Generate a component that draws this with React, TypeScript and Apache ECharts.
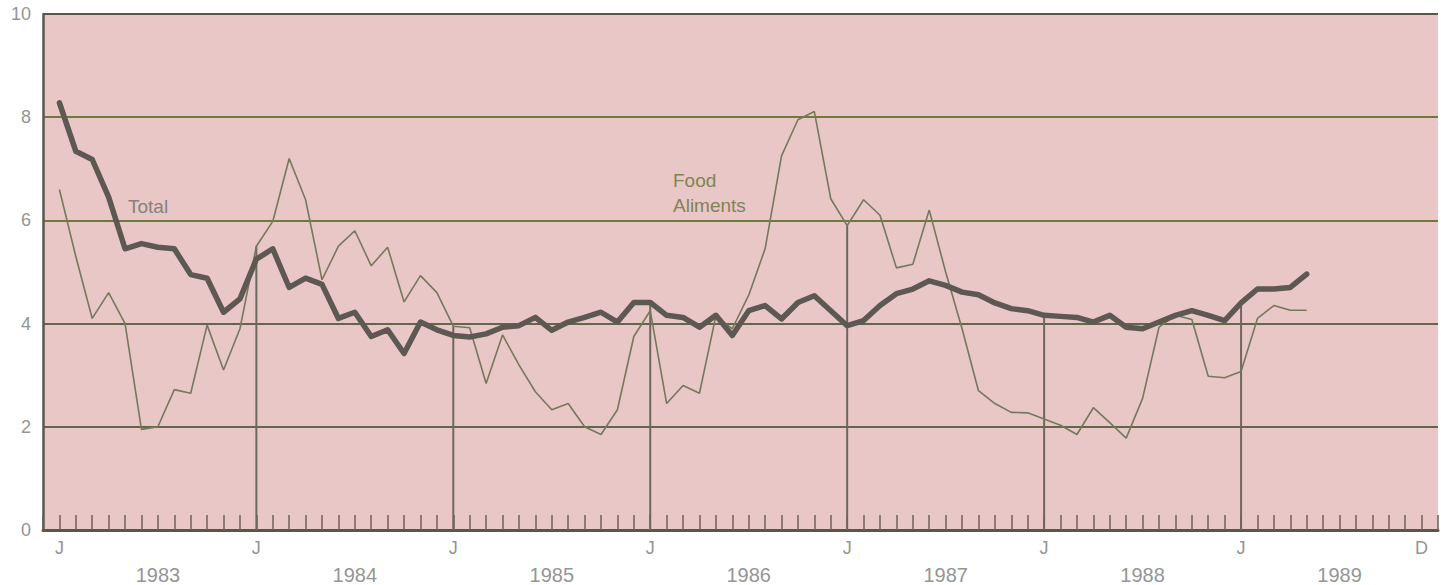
import React, { useEffect, useRef } from "react";
import * as echarts from "echarts";

// Month index 0 = January 1983
const totalValues = [
  8.28, 7.34, 7.18, 6.45, 5.45, 5.55, 5.48, 5.45, 4.95, 4.88, 4.22, 4.48,
  5.25, 5.45, 4.7, 4.88, 4.76, 4.1, 4.22, 3.75, 3.88, 3.42, 4.03, 3.88,
  3.77, 3.74, 3.8, 3.93, 3.96, 4.12, 3.87, 4.03, 4.12, 4.22, 4.03, 4.41,
  4.41, 4.16, 4.12, 3.93, 4.16, 3.77, 4.25, 4.35, 4.09, 4.41, 4.54, 4.25,
  3.96, 4.06, 4.35, 4.58, 4.67, 4.83, 4.74, 4.61, 4.56, 4.4, 4.29, 4.25,
  4.16, 4.14, 4.12, 4.03, 4.16, 3.93, 3.9, 4.03, 4.16, 4.25, 4.16, 4.06,
  4.4, 4.67, 4.67, 4.7, 4.96,
];

const foodValues = [
  6.6, 5.3, 4.1, 4.6, 4.0, 1.95, 2.0, 2.72, 2.65, 3.97, 3.1, 3.9,
  5.5, 5.98, 7.2, 6.4, 4.85, 5.5, 5.8, 5.12, 5.48, 4.42, 4.93, 4.6,
  3.95, 3.92, 2.84, 3.78, 3.2, 2.68, 2.33, 2.45, 2.0, 1.85, 2.33, 3.75,
  4.25, 2.45, 2.8, 2.65, 4.15, 3.9, 4.55, 5.45, 7.25, 7.95, 8.11, 6.42,
  5.9, 6.4, 6.1, 5.08, 5.15, 6.2, 5.0, 3.9, 2.7, 2.45, 2.28, 2.27,
  2.15, 2.03, 1.85, 2.37, 2.08, 1.78, 2.55, 3.93, 4.16, 4.08, 2.98, 2.95,
  3.07, 4.1, 4.35, 4.26, 4.26,
];

const years = ["1983", "1984", "1985", "1986", "1987", "1988", "1989"];
const monthLetterJan = "J";
const monthLetterDec = "D";
const lastMonth = 83; // December 1989
const yTicks = [0, 2, 4, 6, 8, 10];

const FONT = "'Liberation Sans', Arial, sans-serif";
const LABEL_GREY = "#959595";

export default function App() {
  const ref = useRef<HTMLDivElement>(null);

  useEffect(() => {
    if (!ref.current) return;
    const chart = echarts.init(ref.current, undefined, { renderer: "svg" });

    const totalData = totalValues.map((v, i) => [i, v]);
    const foodData = foodValues.map((v, i) => [i, v]);
    // drop lines at each January after the first one
    const janData = years
      .map((_, k) => k * 12)
      .filter((m) => m > 0 && m < totalValues.length)
      .map((m) => [m, Math.max(totalValues[m], foodValues[m])]);

    const gridLineColors = ["#5c554c", "#62664a", "#62664a", "#6c7a3e", "#6c7a3e", "#5c554c"];

    chart.setOption({
      animation: false,
      backgroundColor: "#ffffff",
      grid: {
        left: 43,
        right: 0,
        top: 14,
        bottom: 54,
        show: true,
        backgroundColor: "#e8c7c6",
        borderWidth: 0,
      },
      xAxis: [
        {
          type: "value",
          min: -1,
          max: 84,
          interval: 1,
          axisLine: { show: true, onZero: false, lineStyle: { color: "#5c554c", width: 3 } },
          axisTick: {
            show: true,
            inside: true,
            length: 15,
            lineStyle: { color: "#6a625a", width: 1.5 },
          },
          splitLine: { show: false },
          axisLabel: {
            show: true,
            margin: 9,
            color: LABEL_GREY,
            fontSize: 18,
            fontFamily: FONT,
            formatter: (v: number) => {
              if (v === lastMonth) return monthLetterDec;
              if (v >= 0 && v % 12 === 0 && v / 12 < years.length) return monthLetterJan;
              return "";
            },
          },
        },
        {
          type: "value",
          position: "bottom",
          offset: 26,
          min: -1,
          max: 84,
          interval: 1,
          axisLine: { show: false, onZero: false },
          axisTick: { show: false },
          splitLine: { show: false },
          axisLabel: {
            show: true,
            margin: 9,
            color: LABEL_GREY,
            fontSize: 20,
            fontFamily: FONT,
            formatter: (v: number) => {
              if (v >= 0 && v % 12 === 6) {
                const k = (v - 6) / 12;
                return years[k] ?? "";
              }
              return "";
            },
          },
        },
      ],
      yAxis: {
        type: "value",
        min: 0,
        max: 10,
        interval: 2,
        axisLine: { show: true, onZero: false, lineStyle: { color: "#5c554c", width: 2.5 } },
        axisTick: { show: false },
        axisLabel: {
          margin: 12,
          color: LABEL_GREY,
          fontSize: 18,
          fontFamily: FONT,
          formatter: (v: number) => (yTicks.includes(v) ? String(v) : ""),
        },
        splitLine: {
          show: true,
          lineStyle: { color: gridLineColors, width: 2 },
        },
      },
      series: [
        {
          type: "custom",
          name: "jan",
          xAxisIndex: 0,
          z: 2,
          silent: true,
          renderItem: (params: any, api: any) => {
            const m = api.value(0);
            const v = api.value(1);
            const p0 = api.coord([m, 0]);
            const p1 = api.coord([m, v]);
            return {
              type: "line",
              shape: { x1: p0[0], y1: p0[1], x2: p1[0], y2: p1[1] },
              style: { stroke: "#6e675f", lineWidth: 2 },
            };
          },
          data: janData,
        },
        {
          type: "line",
          name: "Food",
          xAxisIndex: 0,
          data: foodData,
          symbol: "none",
          z: 3,
          lineStyle: { color: "#76785c", width: 1.6 },
        },
        {
          type: "line",
          name: "Total",
          xAxisIndex: 0,
          data: totalData,
          symbol: "none",
          z: 4,
          lineStyle: { color: "#5d5852", width: 5.5, cap: "round", join: "round" },
        },
      ],
      graphic: [
        {
          type: "text",
          left: 128,
          top: 197,
          style: { text: "Total", fill: "#86827c", font: `19px ${FONT}` },
          z: 10,
        },
        {
          type: "text",
          left: 673,
          top: 171,
          style: { text: "Food", fill: "#7f8455", font: `19px ${FONT}` },
          z: 10,
        },
        {
          type: "text",
          left: 673,
          top: 196,
          style: { text: "Aliments", fill: "#7f8455", font: `19px ${FONT}` },
          z: 10,
        },
      ],
    });

    return () => chart.dispose();
  }, []);

  return (
    <div
      ref={ref}
      style={{ position: "fixed", left: 0, top: 0, width: 1441, height: 585, background: "#fff" }}
    />
  );
}
